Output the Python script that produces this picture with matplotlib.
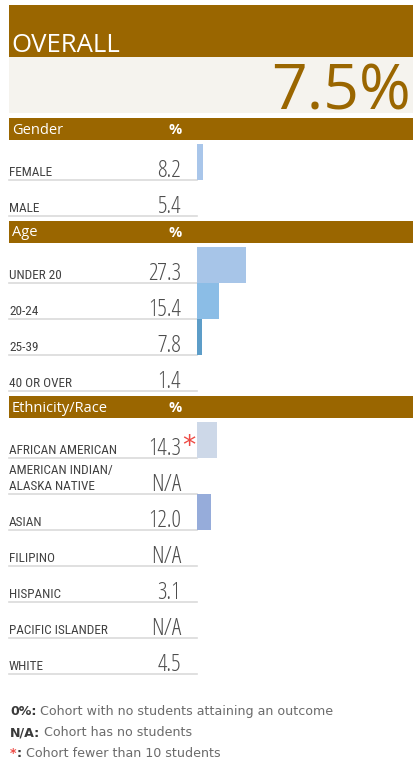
import numpy as np
import matplotlib
matplotlib.use('Agg')
import matplotlib.pyplot as plt
from matplotlib import font_manager
from matplotlib.font_manager import FontProperties
from matplotlib.patches import Rectangle

# values
overall_label = 'OVERALL'
overall_value = 7.5

gender_labels = ['FEMALE', 'MALE']
gender_values = [8.2, 5.4]
gender_colors = ['#a9c6ea', '#a9c6ea']

age_labels = ['UNDER 20', '20-24', '25-39', '40 OR OVER']
age_values = [27.3, 15.4, 7.8, 1.4]
age_colors = ['#a7c5e8', '#8bbde6', '#5d9dc8', '#5d9dc8']

eth_labels = ['AFRICAN AMERICAN', 'AMERICAN INDIAN/\nALASKA NATIVE', 'ASIAN',
              'FILIPINO', 'HISPANIC', 'PACIFIC ISLANDER', 'WHITE']
eth_values = [14.3, np.nan, 12.0, np.nan, 3.1, np.nan, 4.5]
eth_small = [True, False, False, False, False, False, False]
eth_colors = ['#cdd8e8', '#cdd8e8', '#96acda', '#96acda', '#96acda', '#96acda', '#96acda']

notes = [
    [('0%:', '#3a3a3a', 'bold'), ('Cohort with no students attaining an outcome', '#6b6b6b', 'normal')],
    [('N/A:', '#3a3a3a', 'bold'), ('Cohort has no students', '#6b6b6b', 'normal')],
    [('*', '#ee4a44', 'bold'), (':', '#3a3a3a', 'bold'), ('Cohort fewer than 10 students', '#6b6b6b', 'normal')],
]

brown = '#9a6600'
beige = '#f5f3ee'
W, H = 417, 762


def weight_num(w):
    if isinstance(w, (int, float)):
        return int(w)
    return {'thin': 100, 'extra light': 200, 'ultralight': 200, 'light': 300,
            'normal': 400, 'regular': 400, 'book': 400, 'medium': 500,
            'semibold': 600, 'demibold': 600, 'bold': 700}.get(str(w).lower(), 400)


def find_narrow(weight, weight_first=False):
    # look for any condensed / narrow face that happens to be installed
    order = ['Open Sans', 'Noto Sans', 'Roboto', 'Liberation Sans', 'DejaVu Sans', 'Lato', 'Inter']
    best = None
    for f in font_manager.fontManager.ttflist:
        narrowish = ('Condensed' in f.name or 'Narrow' in f.name
                     or f.stretch in ('condensed', 'semi-condensed'))
        if not narrowish or f.style != 'normal':
            continue
        rank = len(order)
        for i, o in enumerate(order):
            if f.name.startswith(o):
                rank = i
                break
        wd = abs(weight_num(f.weight) - weight)
        key = (wd, rank) if weight_first else (rank, wd)
        if best is None or key < best[0]:
            best = (key, f.fname)
    return best[1] if best else None


label_file = find_narrow(400, weight_first=True)
value_file = find_narrow(300)
if label_file:
    def lfont(size):
        return FontProperties(fname=label_file, size=size)

    def vfont(size):
        return FontProperties(fname=value_file, size=size)
    label_size, value_size = 9.5, 17
else:
    def lfont(size):
        return FontProperties(family='Liberation Sans', size=size)
    vfont = lfont
    label_size, value_size = 9, 15.5

head = dict(family='Open Sans')

fig = plt.figure(figsize=(W / 100, H / 100), dpi=100)
ax = fig.add_axes([0, 0, 1, 1])
ax.set_xlim(0, W)
ax.set_ylim(H, 0)
ax.axis('off')

# overall block
ax.add_patch(Rectangle((9, 5), 404, 52, color=brown, lw=0))
ax.text(11, 52, overall_label, va='baseline', color='white', fontsize=18.5, **head)
ax.add_patch(Rectangle((9, 57), 404, 56, color=beige, lw=0))
ax.text(411, 110, '{:.1f}%'.format(overall_value), ha='right', va='baseline',
        color=brown, fontsize=45, **head)

sections = [
    ('Gender', gender_labels, gender_values, gender_colors, [False] * 2),
    ('Age', age_labels, age_values, age_colors, [False] * 4),
    ('Ethnicity/Race', eth_labels, eth_values, eth_colors, eth_small),
]

row_h = 36
y = 118
for title, labels, values, colors, small in sections:
    ax.add_patch(Rectangle((9, y), 404, 22, color=brown, lw=0))
    ax.text(12, y + 12, title, va='center', color='white', fontsize=10.5, **head)
    ax.text(182, y + 12, '%', ha='right', va='center', color='white',
            fontsize=10.5, weight='bold', **head)
    top = y + 26
    n = len(labels)

    # bars: axis starts near 5.7 like the source, so low values do not show
    bax = fig.add_axes([197 / W, 1 - (top + row_h * n) / H, 216 / W, row_h * n / H])
    vals = np.array(values, dtype=float)
    bax.barh(np.arange(n), np.nan_to_num(vals), height=1.0, color=colors, lw=0)
    bax.set_ylim(n - 0.5, -0.5)
    bax.set_xlim(5.7, 100)
    bax.axis('off')

    for i, (label, v) in enumerate(zip(labels, vals)):
        sep = top + row_h * (i + 1)
        ax.plot([9, 197], [sep, sep], color='#dadada', lw=1.2)
        for j, line in enumerate(reversed(label.split('\n'))):
            ax.text(9, sep - 4 - 16 * j, line, va='baseline', color='#424242',
                    fontproperties=lfont(label_size))
        txt = 'N/A' if np.isnan(v) else '{:.1f}'.format(v)
        ax.text(181, sep - 3, txt, ha='right', va='baseline', color='#4d4d4d',
                fontproperties=vfont(value_size))
        if small[i]:
            ax.text(182.5, sep - 4, '*', va='baseline', color='#ee4a44',
                    fontsize=19, family='DejaVu Sans')
    y = top + row_h * n + 5

# footnotes, drawn piece by piece for the colours
r = fig.canvas.get_renderer()
inv = ax.transData.inverted()
for k, parts in enumerate(notes):
    yy = 715 + 21 * k
    x = 10
    for p, (s, c, w) in enumerate(parts):
        if p > 0 and s[0].isalpha():
            x += 4
        t = ax.text(x, yy, s, va='baseline', color=c, weight=w, fontsize=9.1,
                    family='DejaVu Sans')
        bb = t.get_window_extent(r)
        x = inv.transform((bb.x1, bb.y0))[0]

fig.savefig('out.png', dpi=100, facecolor='white')
